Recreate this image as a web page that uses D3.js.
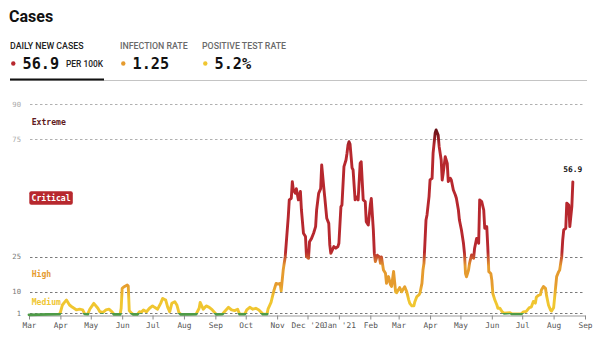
<!DOCTYPE html>
<html>
<head>
<meta charset="utf-8">
<script src="https://cdn.jsdelivr.net/npm/d3@7"></script>
<style>
  html, body { margin: 0; padding: 0; background: #fff; }
  svg { display: block; }
</style>
</head>
<body>
<svg id="chart" width="600" height="343"></svg>
<script>
// Daily new cases per 100K (7-day average)
const dates = [
  "2020-03-01","2020-03-10","2020-03-20","2020-03-31","2020-04-01","2020-04-03","2020-04-05","2020-04-07",
  "2020-04-10","2020-04-13","2020-04-17","2020-04-20","2020-04-23","2020-04-25","2020-04-28","2020-04-30",
  "2020-05-04","2020-05-08","2020-05-10","2020-05-13","2020-05-16","2020-05-19","2020-05-22","2020-05-24",
  "2020-05-30","2020-05-31","2020-06-01","2020-06-03","2020-06-06","2020-06-07","2020-06-08","2020-06-10",
  "2020-06-12","2020-06-16","2020-06-18","2020-06-20","2020-06-22","2020-06-25","2020-06-28","2020-07-01",
  "2020-07-03","2020-07-06","2020-07-09","2020-07-11","2020-07-14","2020-07-16","2020-07-18","2020-07-20",
  "2020-07-23","2020-07-25","2020-07-27","2020-07-29","2020-08-05","2020-08-13","2020-08-16","2020-08-17",
  "2020-08-20","2020-08-23","2020-08-26","2020-08-29","2020-09-02","2020-09-08","2020-09-10","2020-09-14",
  "2020-09-17","2020-09-20","2020-09-23","2020-09-25","2020-09-30","2020-10-02","2020-10-05","2020-10-08",
  "2020-10-11","2020-10-14","2020-10-18","2020-10-22","2020-10-23","2020-10-26","2020-10-29","2020-10-31",
  "2020-11-02","2020-11-04","2020-11-05","2020-11-07","2020-11-09","2020-11-10","2020-11-12","2020-11-13",
  "2020-11-15","2020-11-16","2020-11-17","2020-11-19","2020-11-20","2020-11-22","2020-11-24","2020-11-25",
  "2020-11-27","2020-11-29","2020-11-30","2020-12-02","2020-12-03","2020-12-05","2020-12-07","2020-12-09",
  "2020-12-10","2020-12-12","2020-12-14","2020-12-15","2020-12-17","2020-12-18","2020-12-20","2020-12-22",
  "2020-12-23","2020-12-24","2020-12-27","2020-12-29","2020-12-31","2021-01-01","2021-01-03","2021-01-04",
  "2021-01-06","2021-01-08","2021-01-09","2021-01-10","2021-01-11","2021-01-12","2021-01-14","2021-01-15",
  "2021-01-17","2021-01-18","2021-01-20","2021-01-22","2021-01-23","2021-01-25","2021-01-27","2021-01-28",
  "2021-01-30","2021-02-01","2021-02-02","2021-02-04","2021-02-05","2021-02-06","2021-02-08","2021-02-10",
  "2021-02-11","2021-02-12","2021-02-14","2021-02-16","2021-02-17","2021-02-19","2021-02-21","2021-02-22",
  "2021-02-24","2021-02-26","2021-02-27","2021-03-02","2021-03-04","2021-03-07","2021-03-09","2021-03-11",
  "2021-03-12","2021-03-14","2021-03-16","2021-03-17","2021-03-19","2021-03-21","2021-03-22","2021-03-24",
  "2021-03-25","2021-03-26","2021-03-28","2021-03-29","2021-03-31","2021-04-01","2021-04-03","2021-04-04",
  "2021-04-06","2021-04-07","2021-04-09","2021-04-10","2021-04-12","2021-04-13","2021-04-14","2021-04-16",
  "2021-04-18","2021-04-19","2021-04-21","2021-04-22","2021-04-24","2021-04-26","2021-04-27","2021-04-29",
  "2021-04-30","2021-05-02","2021-05-04","2021-05-05","2021-05-06","2021-05-07","2021-05-09","2021-05-10",
  "2021-05-12","2021-05-14","2021-05-15","2021-05-17","2021-05-19","2021-05-20","2021-05-22","2021-05-24",
  "2021-05-25","2021-05-27","2021-05-28","2021-05-29","2021-05-31","2021-06-01","2021-06-02","2021-06-04",
  "2021-06-06","2021-06-07","2021-06-09","2021-06-11","2021-06-13","2021-06-16","2021-06-19","2021-06-21",
  "2021-06-30","2021-07-02","2021-07-05","2021-07-08","2021-07-10","2021-07-12","2021-07-14","2021-07-15",
  "2021-07-17","2021-07-19","2021-07-20","2021-07-22","2021-07-24","2021-07-25","2021-07-27","2021-07-29",
  "2021-07-30","2021-08-01","2021-08-02","2021-08-04","2021-08-06","2021-08-07","2021-08-09","2021-08-10",
  "2021-08-11","2021-08-13","2021-08-14","2021-08-16","2021-08-17","2021-08-19","2021-08-20"
];
const values = [
  0.2,0.3,0.4,0.5,1.2,4.4,5.5,6.5,
  4.4,3.4,2.3,2.6,2.3,0.6,0.5,2.6,
  5.1,3.0,1.5,1.2,2.3,2.6,1.5,0.4,
  0.4,3.0,11.5,12.2,12.9,12.5,2.0,1.0,
  0.4,0.4,1.5,1.3,2.3,1.5,3.0,4.0,
  3.4,2.6,5.1,7.2,6.5,3.4,1.5,5.1,
  5.8,4.4,1.2,0.4,0.4,0.5,3.0,5.5,
  2.6,4.0,3.4,2.3,0.4,0.5,1.5,3.4,
  2.3,2.0,2.6,0.5,0.5,2.3,3.4,2.6,
  3.0,2.3,0.5,0.5,2.6,5.5,10.8,13.6,
  13.3,13.6,10.4,19.3,25,30.7,42,49.2,
  49.9,57,53.5,52,54,49.2,52.8,44.9,
  35,33.6,25,24.3,31.4,32.8,35,37.8,
  44.9,52,54,64.1,54.8,50.5,41.4,39.2,
  30,26.4,29.3,28.6,29.3,30.7,46.3,47,
  63.4,66.2,69.1,72.6,74,73,62.9,62,
  49.2,50.5,49.2,64.8,65.5,49.2,48.5,39.9,
  38.5,47,49.8,36.4,26.4,22.9,25.6,24.9,
  22.2,24.9,19.3,17.9,13.6,16.5,13,12.3,
  18.7,10,9.6,11.8,10,12.2,10,6.5,
  5.1,4,4,5.8,8,8.7,9.4,13.6,
  19.3,22.2,40.6,42.8,50.6,57.7,58.4,69.1,
  77.6,79,76.9,71.9,66.2,57.7,60.6,67.6,
  64.8,57,58.4,57.7,53.4,51.3,49.9,44.9,
  40.6,36.4,30.7,26.4,17.8,16.4,19.3,22.2,
  25.7,24.3,28.6,32.8,30.7,49.2,48.5,44.9,
  37.1,37.8,29.3,18.6,17.8,15,9.3,6.5,
  4.4,3,3,1.6,0.9,1.0,1.1,0.6,
  0.6,1.4,1.7,3.3,3.5,5.9,5.2,7.8,
  8.5,8.8,10.8,12.3,11.5,8.5,4.3,2.2,
  1.8,3.2,7.5,16.5,18.6,19.3,25,32.1,
  36.4,37.1,47.8,47,37.8,46.3,56.9
];

// Risk levels and their boundaries
const gridValues = [1, 10, 25, 75, 90];
const levelNames = ["Medium", "High", "Critical", "Extreme"];
const levelRanges = [[1, 10], [10, 25], [25, 75], [75, 90]];

// Header metrics
const metricNames = ["DAILY NEW CASES", "INFECTION RATE", "POSITIVE TEST RATE"];
const metricValues = ["56.9", "1.25", "5.2%"];
const metricUnit = "PER 100K";

// X axis ticks
const tickDates = [
  "2020-03-01","2020-04-01","2020-05-01","2020-06-01","2020-07-01","2020-08-01","2020-09-01",
  "2020-10-01","2020-11-01","2020-12-01","2021-01-01","2021-02-01","2021-03-01","2021-04-01",
  "2021-05-01","2021-06-01","2021-07-01","2021-08-01","2021-09-01"
];
const tickLabels = [
  "Mar","Apr","May","Jun","Jul","Aug","Sep","Oct","Nov","Dec '20","Jan '21","Feb","Mar","Apr",
  "May","Jun","Jul","Aug","Sep"
];

const parse = d3.timeParse("%Y-%m-%d");
const data = dates.map((d, i) => ({ date: parse(d), value: values[i] }));

const COLORS = {
  low: "#4e9b47",
  medium: "#f0c630",
  high: "#e59b2e",
  critical: "#b7282e",
  extreme: "#681016"
};
const MONO = "'DejaVu Sans Mono', monospace";
const SANS = "Roboto, 'Noto Sans', sans-serif";

const svg = d3.select("#chart");

// ---- Header ----
svg.append("text")
  .attr("x", 9).attr("y", 22)
  .attr("font-family", SANS).attr("font-weight", 700).attr("font-size", 16)
  .attr("fill", "#111").text("Cases");

const tabX = [10, 120, 202];
const dotColors = [COLORS.critical, COLORS.high, COLORS.medium];
metricNames.forEach((name, i) => {
  svg.append("text")
    .attr("x", tabX[i]).attr("y", 49)
    .attr("font-family", SANS).attr("font-weight", 500).attr("font-size", 8.8)
    .attr("fill", i === 0 ? "#222" : "#6a6a6a")
    .text(name);
  svg.append("circle")
    .attr("cx", tabX[i] + 3.3).attr("cy", 63.5).attr("r", 2.2)
    .attr("fill", dotColors[i]);
  svg.append("text")
    .attr("x", tabX[i] + 12.5).attr("y", 68.5)
    .attr("font-family", MONO).attr("font-weight", 700).attr("font-size", 15.2)
    .attr("fill", "#111")
    .text(metricValues[i]);
});
svg.append("text")
  .attr("x", 66).attr("y", 66.7)
  .attr("font-family", SANS).attr("font-weight", 500).attr("font-size", 8.4)
  .attr("fill", "#222").text(metricUnit);

svg.append("line")
  .attr("x1", 10).attr("x2", 587).attr("y1", 80.5).attr("y2", 80.5)
  .attr("stroke", "#c4c4c4").attr("stroke-width", 1);
svg.append("line")
  .attr("x1", 10).attr("x2", 104).attr("y1", 79.5).attr("y2", 79.5)
  .attr("stroke", "#111").attr("stroke-width", 2);

// ---- Scales ----
const x = d3.scaleTime()
  .domain([parse("2020-03-01"), parse("2021-09-01")])
  .range([29, 585]);
const y = d3.scaleLinear()
  .domain([0, 90])
  .range([315.3, 104.2]);

// ---- Gridlines ----
const grid = svg.append("g");
gridValues.forEach(v => {
  const light = v >= 75;
  grid.append("line")
    .attr("x1", 30).attr("x2", 585)
    .attr("y1", Math.round(y(v)) + 0.5).attr("y2", Math.round(y(v)) + 0.5)
    .attr("stroke", light ? "#b0b0b0" : "#7a7a7a")
    .attr("stroke-width", 1)
    .attr("stroke-dasharray", "2.5,2.5");
  grid.append("text")
    .attr("x", 21).attr("y", y(v) + 2.6)
    .attr("text-anchor", "end")
    .attr("font-family", MONO).attr("font-size", 7.2)
    .attr("fill", light ? "#a8a8a8" : "#777")
    .text(v);
});

// ---- Level labels ----
const levelColors = [COLORS.medium, COLORS.high, COLORS.critical, "#5e1a20"];
levelNames.forEach((name, i) => {
  const mid = y((levelRanges[i][0] + levelRanges[i][1]) / 2);
  if (name === "Critical") {
    const w = 43.5, h = 13.6;
    svg.append("rect")
      .attr("x", 29.3).attr("y", mid - h / 2)
      .attr("width", w).attr("height", h)
      .attr("rx", 2).attr("fill", COLORS.critical);
    svg.append("text")
      .attr("x", 29.3 + w / 2).attr("y", mid + 2.9)
      .attr("text-anchor", "middle")
      .attr("font-family", MONO).attr("font-weight", 700).attr("font-size", 8.1)
      .attr("fill", "#fff").text(name);
  } else {
    svg.append("text")
      .attr("x", 31.7).attr("y", mid + 2.9)
      .attr("font-family", MONO).attr("font-weight", 700).attr("font-size", 8.1)
      .attr("fill", levelColors[i]).text(name);
  }
});

// ---- X axis ----
const axis = d3.axisBottom(x)
  .tickValues(tickDates.map(parse))
  .tickFormat((d, i) => tickLabels[i])
  .tickSize(4)
  .tickSizeOuter(0);
const gx = svg.append("g")
  .attr("transform", "translate(0,315.5)")
  .call(axis);
gx.select(".domain").attr("stroke", "#9a9a9a").attr("stroke-width", 1.2);
gx.selectAll(".tick line").attr("stroke", "#8a8a8a");
gx.selectAll(".tick text")
  .attr("font-family", MONO).attr("font-size", 7.8)
  .attr("fill", "#555").attr("dy", "0.95em").attr("y", 5);

// ---- Line coloured by value ----
const defs = svg.append("defs");
const grad = defs.append("linearGradient")
  .attr("id", "riskGradient")
  .attr("gradientUnits", "userSpaceOnUse")
  .attr("x1", 0).attr("x2", 0)
  .attr("y1", y(0)).attr("y2", y(90));
const stops = [
  [0, COLORS.low], [0.95, COLORS.low], [1.15, COLORS.medium], [7, COLORS.medium],
  [13, COLORS.high], [21, COLORS.high], [27, COLORS.critical], [72, COLORS.critical],
  [79, COLORS.extreme], [90, COLORS.extreme]
];
stops.forEach(([v, c]) => {
  grad.append("stop").attr("offset", v / 90).attr("stop-color", c);
});

const line = d3.line()
  .x(d => x(d.date))
  .y(d => y(d.value));

svg.append("path")
  .datum(data)
  .attr("d", line)
  .attr("fill", "none")
  .attr("stroke", "url(#riskGradient)")
  .attr("stroke-width", 2.9)
  .attr("stroke-linejoin", "round")
  .attr("stroke-linecap", "round");

// ---- Latest value label ----
const last = data[data.length - 1];
svg.append("text")
  .attr("x", x(last.date)).attr("y", y(last.value) - 10)
  .attr("text-anchor", "middle")
  .attr("font-family", MONO).attr("font-weight", 700).attr("font-size", 7.9)
  .attr("fill", "#111")
  .text(last.value.toFixed(1));
</script>
</body>
</html>
